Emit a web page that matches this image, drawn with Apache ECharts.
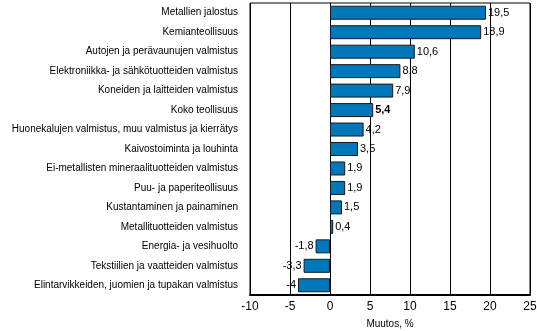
<!DOCTYPE html>
<html>
<head>
<meta charset="utf-8">
<script src="https://cdn.jsdelivr.net/npm/echarts@6/dist/echarts.min.js"></script>
<style>html,body{margin:0;padding:0;background:#fff}#c{width:537px;height:331px}</style>
</head>
<body>
<div id="c"></div>
<script>
const categories = [
  "Metallien jalostus",
  "Kemianteollisuus",
  "Autojen ja perävaunujen valmistus",
  "Elektroniikka- ja sähkötuotteiden valmistus",
  "Koneiden ja laitteiden valmistus",
  "Koko teollisuus",
  "Huonekalujen valmistus, muu valmistus ja kierrätys",
  "Kaivostoiminta ja louhinta",
  "Ei-metallisten mineraalituotteiden valmistus",
  "Puu- ja paperiteollisuus",
  "Kustantaminen ja painaminen",
  "Metallituotteiden valmistus",
  "Energia- ja vesihuolto",
  "Tekstiilien ja vaatteiden valmistus",
  "Elintarvikkeiden, juomien ja tupakan valmistus"
];
const values = [19.5, 18.9, 10.6, 8.8, 7.9, 5.4, 4.2, 3.5, 1.9, 1.9, 1.5, 0.4, -1.8, -3.3, -4];
const boldCategory = "Koko teollisuus";
const xMin = -10, xMax = 25, xStep = 5;
const axisTitle = "Muutos, %";

const font = "'Liberation Sans', Arial, sans-serif";
const fmt = v => String(v).replace('.', ',');

const data = values.map((v, i) => ({
  value: v,
  label: {
    position: v < 0 ? 'left' : 'right',
    fontWeight: categories[i] === boldCategory ? 'bold' : 'normal'
  }
}));

const chart = echarts.init(document.getElementById('c'));
chart.setOption({
  animation: false,
  grid: { left: 250, right: 7, top: 3, bottom: 36, show: true, borderColor: '#000', borderWidth: 1,
          containLabel: false, outerBoundsMode: 'none' },
  xAxis: {
    type: 'value', min: xMin, max: xMax, interval: xStep,
    name: axisTitle, nameLocation: 'middle', nameGap: 24,
    nameTextStyle: { fontFamily: font, fontSize: 10, color: '#000' },
    axisLine: { show: true, onZero: false, lineStyle: { color: '#000', width: 2 } },
    axisTick: { show: false },
    axisLabel: { fontFamily: font, fontSize: 12, color: '#000', margin: 6, formatter: fmt },
    splitLine: { show: true, lineStyle: { color: '#000', width: 1 } }
  },
  yAxis: {
    type: 'category', data: categories, inverse: true,
    axisLine: { show: true, lineStyle: { color: '#000', width: 1 } },
    axisTick: { show: false },
    axisLabel: { fontFamily: font, fontSize: 10, color: '#000', margin: 12 },
    splitLine: { show: false }
  },
  series: [{
    type: 'bar', data: data, barWidth: 14,
    itemStyle: { color: '#0077bb', borderColor: '#1a1a1a', borderWidth: 1 },
    label: { show: true, fontFamily: font, fontSize: 11, color: '#000', distance: 2, formatter: p => fmt(p.value) }
  }]
});
</script>
</body>
</html>
